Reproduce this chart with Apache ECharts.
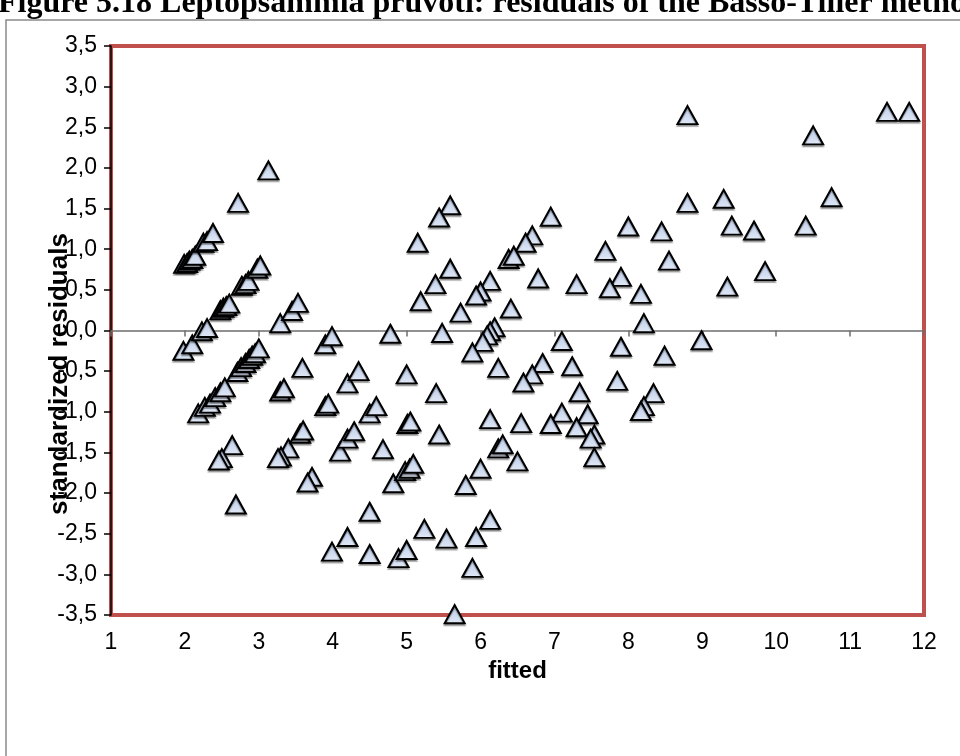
<!DOCTYPE html>
<html>
<head>
<meta charset="utf-8">
<style>
  html, body { margin: 0; padding: 0; background: #fff; }
  #chart { width: 960px; height: 756px; }
</style>
<script src="https://cdn.jsdelivr.net/npm/echarts@6/dist/echarts.min.js"></script>
</head>
<body>
<div id="chart"></div>
<script>
// Fitted values and standardized residuals (Basso-Tiller method)
const fitted = [
  1.99, 2.03, 2.06, 2.10, 2.14, 2.25, 2.30, 2.38, 2.72, 3.13,
  2.48, 2.52, 2.56, 2.60, 2.77, 2.82, 2.86, 2.98, 3.02, 3.29,
  3.45, 3.53, 1.98, 2.10, 2.23, 2.30, 2.18, 2.27, 2.34, 2.41,
  2.48, 2.54, 2.71, 2.76, 2.82, 2.87, 2.91, 2.95, 3.00, 2.64,
  2.50, 2.46, 2.69, 3.59, 3.29, 3.34, 3.40, 3.30, 3.26, 3.56,
  3.60, 3.72, 3.66, 3.90, 3.94, 3.90, 3.99, 4.20, 4.35, 4.10,
  4.20, 4.29, 4.50, 4.59, 4.68, 4.82, 4.50, 4.20, 3.99, 4.50,
  4.89, 5.00, 5.24, 5.54, 5.94, 6.13, 5.89, 5.65, 4.78, 5.00,
  5.01, 5.05, 4.98, 5.04, 5.09, 5.40, 5.44, 5.80, 6.00, 6.13,
  6.24, 6.30, 6.50, 6.55, 5.48, 5.59, 5.44, 5.15, 5.59, 5.39,
  5.19, 5.73, 6.13, 6.00, 5.94, 6.19, 6.13, 6.09, 6.03, 5.89,
  6.24, 6.38, 6.41, 6.95, 6.70, 6.61, 6.45, 6.78, 7.30, 7.10,
  6.84, 6.70, 6.58, 7.24, 7.34, 7.10, 6.95, 7.45, 7.30, 7.54,
  7.49, 7.54, 8.00, 7.69, 7.90, 7.75, 8.17, 8.21, 7.90, 7.85,
  8.49, 8.34, 8.21, 8.17, 8.45, 8.55, 8.99, 8.80, 11.50, 11.80,
  10.50, 8.80, 9.29, 10.75, 9.40, 9.70, 10.40, 9.85, 9.34
];
const residuals = [
  0.82, 0.83, 0.86, 0.88, 0.92, 1.08, 1.10, 1.20, 1.57, 1.97,
  0.25, 0.28, 0.30, 0.33, 0.55, 0.57, 0.61, 0.76, 0.80, 0.09,
  0.24, 0.34, -0.25, -0.17, -0.01, 0.03, -1.02, -0.94, -0.90, -0.82,
  -0.76, -0.70, -0.51, -0.45, -0.40, -0.35, -0.31, -0.28, -0.22, -1.41,
  -1.57, -1.60, -2.14, -0.46, -0.75, -0.71, -1.45, -1.55, -1.57, -1.27,
  -1.23, -1.80, -1.87, -0.93, -0.90, -0.17, -0.07, -0.65, -0.50, -1.49,
  -1.33, -1.24, -1.02, -0.93, -1.46, -1.88, -2.23, -2.54, -2.72, -2.75,
  -2.80, -2.70, -2.44, -2.56, -2.54, -2.33, -2.92, -3.49, -0.04, -0.54,
  -1.15, -1.12, -1.73, -1.70, -1.64, -0.77, -1.28, -1.90, -1.70, -1.09,
  -1.45, -1.40, -1.61, -1.14, -0.03, 1.54, 1.39, 1.08, 0.76, 0.57,
  0.36, 0.22, 0.61, 0.48, 0.43, 0.04, -0.01, -0.06, -0.14, -0.27,
  -0.46, 0.88, 0.27, 1.40, 1.17, 1.08, 0.92, 0.64, 0.57, -0.13,
  -0.40, -0.54, -0.64, -0.44, -0.76, -1.01, -1.15, -1.03, -1.19, -1.28,
  -1.33, -1.56, 1.28, 0.98, 0.66, 0.52, 0.45, 0.09, -0.20, -0.62,
  -0.31, -0.77, -0.93, -0.99, 1.22, 0.86, -0.12, 2.65, 2.69, 2.69,
  2.40, 1.57, 1.62, 1.64, 1.29, 1.23, 1.29, 0.73, 0.54
];
const xTicks = { min: 1, max: 12, step: 1 };
const yTicks = { min: -3.5, max: 3.5, step: 0.5 };

const points = fitted.map((x, i) => [x, residuals[i]]);
const commaDecimal = v => v.toFixed(1).replace('.', ',');

const chart = echarts.init(document.getElementById('chart'), null, { renderer: 'canvas' });

const sans = 'Liberation Sans, Arial, sans-serif';
const labelFont = { fontFamily: sans, fontSize: 23, color: '#000' };

chart.setOption({
  animation: false,
  backgroundColor: '#fff',
  graphic: [
    {
      type: 'rect',
      shape: { x: 6, y: 20, width: 1000, height: 800 },
      style: { fill: 'none', stroke: '#8a8a8a', lineWidth: 1.5 },
      z: -10
    },
    {
      type: 'text',
      left: -2,
      top: -12,
      style: {
        text: 'Figure 5.18 Leptopsammia pruvoti: residuals of the Basso-Tiller method',
        font: 'bold 32px "Liberation Serif", "Times New Roman", serif',
        fill: '#000'
      }
    },
    {
      // vertical axis title, drawn over the tick labels as in the original layout
      type: 'text',
      x: 60,
      y: 374,
      rotation: Math.PI / 2,
      z: 100,
      style: {
        text: 'standardized residuals',
        font: 'bold 26px ' + sans,
        fill: '#000',
        align: 'center',
        verticalAlign: 'middle'
      }
    }
  ],
  grid: {
    left: 111, right: 36, top: 46, bottom: 141,
    show: true,
    borderColor: '#c0504d',
    borderWidth: 4,
    backgroundColor: '#fff'
  },
  xAxis: [
    {
      type: 'value',
      min: xTicks.min, max: xTicks.max, interval: xTicks.step,
      position: 'bottom',
      name: 'fitted',
      nameLocation: 'middle',
      nameGap: 44,
      nameTextStyle: { fontFamily: sans, fontSize: 24, fontWeight: 'bold', color: '#000' },
      axisLine: { show: false, onZero: false },
      axisTick: { show: false },
      splitLine: { show: false },
      axisLabel: Object.assign({ margin: 16 }, labelFont)
    },
    {
      type: 'value',
      min: xTicks.min, max: xTicks.max, interval: xTicks.step,
      position: 'bottom',
      axisLine: { show: true, onZero: true, lineStyle: { color: '#6e6e6e', width: 1.5 } },
      axisTick: { show: true, inside: false, length: 6, lineStyle: { color: '#6e6e6e', width: 1.5 } },
      axisLabel: { show: false },
      splitLine: { show: false }
    }
  ],
  yAxis: {
    type: 'value',
    min: yTicks.min, max: yTicks.max, interval: yTicks.step,
    axisLine: { show: true, onZero: false, lineStyle: { color: '#000', width: 1.5 } },
    axisTick: { show: true, inside: false, length: 7, lineStyle: { color: '#000', width: 1.5 } },
    splitLine: { show: false },
    axisLabel: Object.assign({ margin: 14, formatter: commaDecimal }, labelFont)
  },
  series: [{
    type: 'scatter',
    xAxisIndex: 0,
    data: points,
    symbol: 'triangle',
    symbolSize: [20, 18],
    clip: false,
    itemStyle: {
      color: new echarts.graphic.LinearGradient(0, 0, 0, 1, [
        { offset: 0, color: '#b3c5e6' },
        { offset: 1, color: '#e3eaf6' }
      ]),
      borderColor: '#000',
      borderWidth: 2,
      opacity: 1,
      shadowColor: 'rgba(0,0,0,0.3)',
      shadowOffsetY: 2,
      shadowBlur: 1
    }
  }]
});
</script>
</body>
</html>
